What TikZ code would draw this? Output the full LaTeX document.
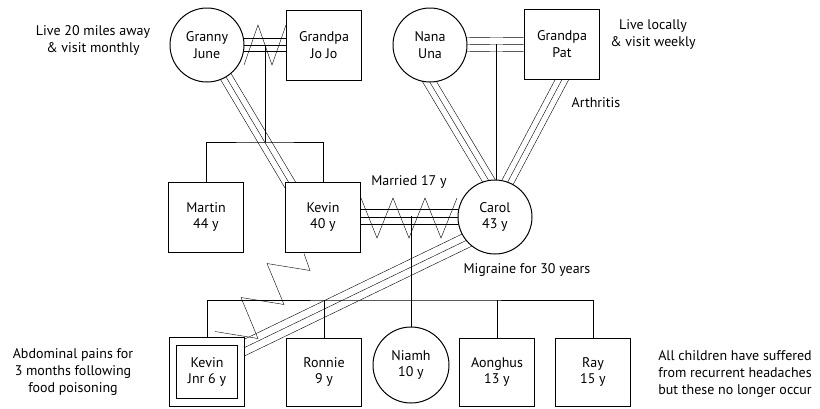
\documentclass[tikz,border=0pt]{standalone}
\usepackage{fontspec}
\setmainfont{PT Sans}
\usepackage{tikz}
\usetikzlibrary{positioning, calc, backgrounds}

% three parallel lines between two points, offset given as perpendicular shift
\newcommand{\tripleline}[4]{%
  \draw[bond] (#1) -- (#2);
  \draw[bond, transform canvas={shift={(#3,#4)}}] (#1) -- (#2);
  \draw[bond, transform canvas={shift={({-1*(#3)},{-1*(#4)})}}] (#1) -- (#2);
}

\begin{document}
\begin{tikzpicture}[x=1pt, y=-1pt, line width=1pt,
  font=\fontsize{14}{16.5}\selectfont,
  male/.style={draw, fill=white, minimum width=75pt, minimum height=70pt,
               align=center, inner sep=2pt},
  female/.style={draw, fill=white, circle, minimum size=74pt, align=center, inner sep=1pt},
  index/.style={male, double, double distance=6.5pt, minimum width=68pt, minimum height=61pt},
  bond/.style={shorten <=-10pt, shorten >=-10pt},
  note/.style={align=center, font=\fontsize{14}{17}\selectfont}]

  \useasboundingbox (0,0) rectangle (820,408);

  % Grandparents
  \node[female] (Granny) at (207,45) {Granny\\June};
  \node[male]   (JoJo)   at (324,45) {Grandpa\\Jo Jo};
  \node[female] (Nana)   at (430,45) {Nana\\Una};
  \node[male]   (Pat)    at (562,44) {Grandpa\\Pat};

  % Parents
  \node[male]   (Martin) at (206,217) {Martin\\44 y};
  \node[male]   (Kevin)  at (323,217) {Kevin\\40 y};
  \node[female] (Carol)  at (495,217) {Carol\\43 y};

  % Children
  \node[index]  (KevinJnr) at (207,372) {Kevin\\Jnr 6 y};
  \node[male, minimum height=68pt] (Ronnie)  at (324,372) {Ronnie\\9 y};
  \node[female, minimum size=76pt] (Niamh)   at (411,365) {Niamh\\10 y};
  \node[male, minimum height=68pt] (Aonghus) at (497,372) {Aonghus\\13 y};
  \node[male, minimum height=68pt] (Ray)     at (593,372) {Ray\\15 y};

  % Notes
  \node[note] (visitJ)   at (93,40)   {Live 20 miles away\\\& visit monthly};
  \node[note] (visitP)   at (653,34)  {Live locally\\\& visit weekly};
  \node[note] (arth)     at (596,103) {Arthritis};
  \node[note] (married)  at (409,182) {Married 17 y};
  \node[note] (migraine) at (527,270) {Migraine for 30 years};
  \node[note] (abdo)     at (73,372)  {Abdominal pains for\\3 months following\\food poisoning};
  \node[note] (heads)    at (735,374) {All children have suffered\\from recurrent headaches\\but these no longer occur};

  \coordinate (gjdrop) at (265,45);
  \coordinate (sibbar) at (265,142);
  \coordinate (npdrop) at (496,44);
  \coordinate (kcdrop) at (411,216);
  \coordinate (kidbar) at (411,300);
  \coordinate (gkend)  at ($(Kevin.north west)+(5,3)$);
  \coordinate (kjend)  at ($(KevinJnr.north east)+(0,8)$);

  \begin{scope}[on background layer]
    % close relationships
    \tripleline{Granny}{JoJo}{0}{6.5}
    \tripleline{Nana}{Pat}{0}{7}
    \tripleline{Kevin}{Carol}{0}{7.5}
    \tripleline{Granny}{gkend}{5.2}{-3.1}
    \tripleline{Nana.south}{Carol.100}{5.2}{-3.1}
    \tripleline{Pat.south}{Carol.70}{5.3}{2.8}
    \tripleline{Carol.219}{kjend}{3.3}{6.8}

    % family lines
    \draw (gjdrop) -- (sibbar);
    \draw (Martin.north) |- (sibbar) -| (Kevin.north);
    \draw (npdrop) -- (npdrop |- Carol.north);
    \draw (kcdrop) -- (Niamh.north);
    \draw (KevinJnr.north) |- (kidbar) -| (Ray.north);
    \draw (Ronnie.north) -- (Ronnie.north |- kidbar);
    \draw (Aonghus.north) -- (Aonghus.north |- kidbar);

    % conflict zigzags
    \draw (JoJo.west) ++(-42,20) -- ++(14,-40) -- ++(14,40) -- ++(14,-40);
    \draw (Kevin.east) ++(0,-19) -- ++(16,40) -- ++(16,-40) -- ++(16,40)
      -- ++(16,-40) -- ++(16,40) -- ++(16,-40);
    \draw (Kevin.south) ++(-19,1) -- ++(6,17) -- ++(-43,-7) -- ++(17,41)
      -- ++(-43,-7) -- ++(17,41) -- ++(-43,-7);
  \end{scope}
\end{tikzpicture}
\end{document}
